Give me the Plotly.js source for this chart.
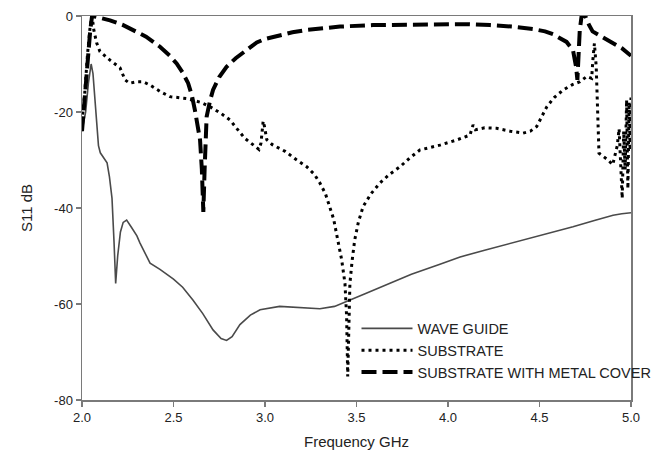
<!DOCTYPE html>
<html>
<head>
<meta charset="utf-8">
<script src="https://cdn.plot.ly/plotly-3.0.1.min.js"></script>
<style>html,body{margin:0;padding:0;background:#fff;}#chart{width:672px;height:467px;}</style>
</head>
<body>
<div id="chart"></div>
<script>
// WAVE GUIDE (solid)
var waveX = [2.0, 2.02, 2.035, 2.05, 2.06, 2.075, 2.09, 2.1, 2.115, 2.137, 2.15, 2.164, 2.175, 2.184, 2.195, 2.21, 2.225, 2.244, 2.27, 2.3, 2.317, 2.35, 2.372, 2.426, 2.5, 2.55, 2.607, 2.66, 2.716, 2.76, 2.79, 2.82, 2.863, 2.92, 2.973, 3.08, 3.2, 3.3, 3.38, 3.446, 3.55, 3.683, 3.8, 3.956, 4.066, 4.2, 4.321, 4.45, 4.58, 4.683, 4.8, 4.902, 4.95, 5.0];
var waveY = [-24, -20, -14, -10, -12, -20, -27, -28.5, -29.4, -30.6, -33.5, -38, -47, -55.7, -50, -45, -43, -42.5, -44, -45.8, -47.3, -50, -51.5, -52.8, -54.8, -56.5, -59.2, -62, -65.4, -67.2, -67.6, -66.8, -64.3, -62.3, -61.2, -60.5, -60.7, -61, -60.5, -59.5, -57.8, -55.7, -53.8, -51.7, -50.2, -48.8, -47.6, -46.3, -45, -43.9, -42.6, -41.5, -41.2, -41];

// SUBSTRATE (dotted)
var subX = [2.0, 2.015, 2.03, 2.045, 2.055, 2.065, 2.08, 2.098, 2.153, 2.208, 2.235, 2.26, 2.3, 2.333, 2.372, 2.43, 2.481, 2.572, 2.65, 2.7, 2.76, 2.81, 2.845, 2.89, 2.934, 2.967, 2.978, 2.985, 2.99, 2.997, 3.003, 3.01, 3.04, 3.11, 3.17, 3.228, 3.27, 3.3, 3.33, 3.355, 3.375, 3.39, 3.405, 3.419, 3.437, 3.446, 3.452, 3.458, 3.464, 3.476, 3.49, 3.51, 3.536, 3.58, 3.628, 3.68, 3.738, 3.79, 3.847, 3.956, 4.05, 4.12, 4.137, 4.15, 4.2, 4.266, 4.34, 4.41, 4.45, 4.485, 4.51, 4.54, 4.58, 4.63, 4.68, 4.721, 4.758, 4.785, 4.792, 4.8, 4.81, 4.815, 4.825, 4.85, 4.875, 4.9, 4.925, 4.935, 4.945, 4.952, 4.96, 4.968, 4.976, 4.983, 4.99, 4.995, 5.0];
var subY = [-22, -16, -8, -2, 0, -3, -5.6, -7.4, -9.2, -10.8, -13.3, -14, -13.7, -13.7, -14.4, -15.8, -16.8, -17.2, -18, -18.9, -20.3, -21.7, -23.4, -25.5, -26.8, -27.8, -26.5, -23.7, -21.9, -23, -24.7, -25.8, -26.8, -28.2, -29.9, -31.4, -33, -34.8, -37, -39.7, -42.3, -45.2, -48, -50.8, -55.7, -62.6, -75.1, -62, -55.7, -51, -46.7, -43, -39.7, -37, -34.8, -33, -31.4, -29.6, -27.9, -26.9, -25.8, -24.8, -22.7, -23.7, -23.3, -23.4, -24, -24.4, -24, -23, -21, -18.9, -17, -15.4, -14.3, -13.7, -12.6, -13, -9, -5.7, -10.6, -17.5, -28.6, -29.3, -30, -31, -27, -23.5, -33, -38, -24, -32, -17.5, -36, -18, -28, -17];

// SUBSTRATE WITH METAL COVER (dashed)
var metX = [2.0, 2.015, 2.03, 2.045, 2.055, 2.08, 2.153, 2.22, 2.28, 2.35, 2.426, 2.48, 2.517, 2.55, 2.58, 2.6, 2.617, 2.635, 2.645, 2.655, 2.663, 2.67, 2.681, 2.7, 2.716, 2.75, 2.79, 2.84, 2.9, 2.955, 3.0, 3.08, 3.15, 3.228, 3.32, 3.41, 3.59, 3.8, 3.956, 4.1, 4.23, 4.35, 4.464, 4.53, 4.574, 4.61, 4.648, 4.683, 4.7, 4.707, 4.712, 4.72, 4.73, 4.75, 4.77, 4.79, 4.84, 4.885, 4.95, 5.0];
var metY = [-24, -18, -10, -3, 0, -0.2, -0.9, -1.8, -2.9, -4.3, -6.4, -8.3, -9.9, -11.8, -14, -16.5, -19.6, -23.5, -25.8, -32, -40.8, -32, -21, -17.6, -15.4, -12.7, -10.6, -8.8, -7.1, -5.5, -4.8, -4, -3.4, -2.9, -2.5, -2.2, -1.9, -1.8, -1.7, -1.7, -1.9, -2.2, -2.7, -3.2, -3.8, -4.5, -5.4, -7.1, -10.6, -13.3, -9, -3, 0, 0, -1.8, -3.2, -4.3, -5.3, -6.7, -8.3];

var names = ['WAVE GUIDE', 'SUBSTRATE', 'SUBSTRATE WITH METAL COVER'];
var xTicks = [2.0, 2.5, 3.0, 3.5, 4.0, 4.5, 5.0];
var xTickText = ['2.0', '2.5', '3.0', '3.5', '4.0', '4.5', '5.0'];
var yTicks = [0, -20, -40, -60, -80];
var yTickText = ['0', '-20', '-40', '-60', '-80'];

var traces = [
  {x: waveX, y: waveY, name: names[0], mode: 'lines', line: {color: '#4a4a4a', width: 1.6}},
  {x: subX, y: subY, name: names[1], mode: 'lines', line: {color: '#000', width: 3, dash: '3px,4px'}},
  {x: metX, y: metY, name: names[2], mode: 'lines', line: {color: '#000', width: 4, dash: '15px,6px'}}
];

var fam = 'Liberation Sans, Arial, sans-serif';
var axisCommon = {
  showgrid: false, zeroline: false, showline: true, linecolor: '#7a7a7a', linewidth: 1.5,
  mirror: true, ticks: 'outside', ticklen: 5, tickcolor: '#7a7a7a', tickwidth: 1.5,
  tickfont: {family: fam, size: 13, color: '#222'}
};

var layout = {
  width: 672, height: 467,
  margin: {l: 82, r: 41, t: 16, b: 67},
  paper_bgcolor: '#fff', plot_bgcolor: '#fff',
  showlegend: true,
  legend: {x: 0.5, y: 0.228, xanchor: 'left', yanchor: 'top', bgcolor: 'rgba(0,0,0,0)',
    font: {family: fam, size: 14.5, color: '#222'},
    itemwidth: 51, tracegroupgap: 0},
  xaxis: Object.assign({}, axisCommon, {range: [2.0, 5.0], tickvals: xTicks, ticktext: xTickText,
    title: {text: 'Frequency GHz', font: {family: fam, size: 15, color: '#222'}, standoff: 12}}),
  yaxis: Object.assign({}, axisCommon, {range: [-80, 0], tickvals: yTicks, ticktext: yTickText,
    title: {text: 'S11 dB', font: {family: fam, size: 15, color: '#222'}, standoff: 18}})
};

Plotly.newPlot('chart', traces, layout, {displayModeBar: false, staticPlot: true});
</script>
</body>
</html>
